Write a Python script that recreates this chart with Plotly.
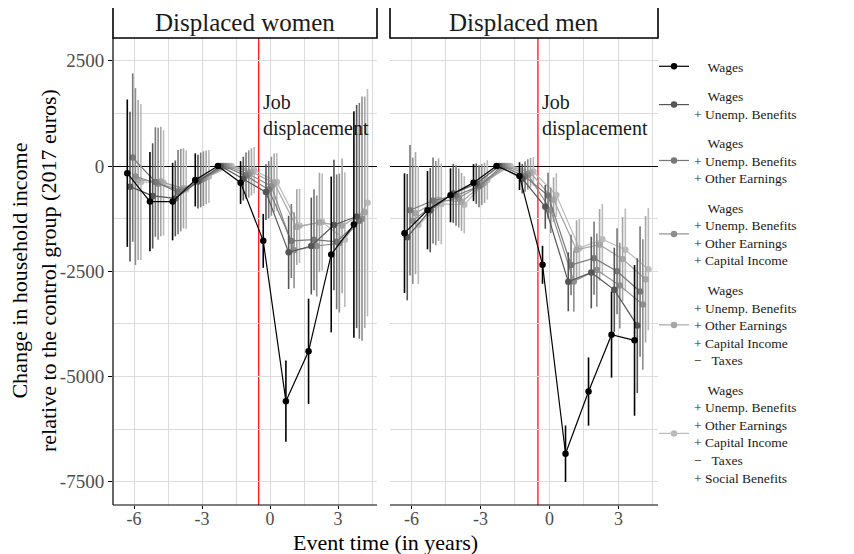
import plotly.graph_objects as go
from plotly.subplots import make_subplots

# ---------------- data ----------------
event_time = [-6, -5, -4, -3, -2, -1, 0, 1, 2, 3, 4]

series_names = [
    "\u2003Wages",
    "\u2003Wages<br>+ Unemp. Benefits",
    "\u2003Wages<br>+ Unemp. Benefits<br>+ Other Earnings",
    "\u2003Wages<br>+ Unemp. Benefits<br>+ Other Earnings<br>+ Capital Income",
    "\u2003Wages<br>+ Unemp. Benefits<br>+ Other Earnings<br>+ Capital Income<br>\u2212\u2002 Taxes",
    "\u2003Wages<br>+ Unemp. Benefits<br>+ Other Earnings<br>+ Capital Income<br>\u2212\u2002 Taxes<br>+ Social Benefits",
]
series_colors = ["#000000", "#555555", "#777777", "#8e8e8e", "#a6a6a6", "#bbbbbb"]
dodge = [-0.30, -0.18, -0.06, 0.06, 0.18, 0.30]

panel_titles = ["Displaced women", "Displaced men"]

# women: estimates and 95% CI half-widths
women_est = [
    [-170, -845, -845, -330, 0, -395, -1777, -5585, -4400, -2100, -1390],
    [-490, -710, -770, -370, 0, -300, -620, -2050, -1900, -1400, -1200],
    [200, -380, -620, -330, 0, -230, -560, -1780, -1750, -1800, -1300],
    [-250, -420, -570, -300, 0, -190, -480, -2000, -1900, -1830, -1250],
    [-330, -370, -530, -270, 0, -140, -400, -1450, -1340, -1420, -1100],
    [-380, -400, -560, -250, 0, -100, -380, -1420, -1330, -1750, -870],
]
women_ci = [
    [1750, 1180, 920, 630, 0, 510, 640, 965, 1250, 1850, 2690],
    [1780, 1250, 900, 640, 0, 520, 660, 870, 1150, 1550, 2650],
    [2000, 1300, 1000, 650, 0, 550, 680, 880, 1200, 1600, 2800],
    [2100, 1330, 980, 650, 0, 560, 700, 900, 1200, 1650, 2900],
    [1900, 1300, 950, 640, 0, 560, 700, 900, 1180, 1600, 2750],
    [1850, 1250, 930, 630, 0, 550, 690, 880, 1150, 1600, 2700],
]
# men
men_est = [
    [-1595, -1050, -695, -395, 0, -240, -2346, -6833, -5356, -4005, -4140],
    [-1690, -1050, -650, -420, 0, -300, -970, -2750, -2530, -2940, -3790],
    [-1050, -820, -700, -480, 0, -250, -700, -2350, -2190, -2500, -2980],
    [-1300, -880, -760, -440, 0, -200, -1050, -2740, -2470, -2840, -3290],
    [-1120, -800, -850, -400, 0, -160, -800, -1990, -1870, -2210, -2690],
    [-1400, -900, -920, -330, 0, -130, -690, -1950, -1740, -1990, -2450],
]
men_ci = [
    [1420, 930, 640, 440, 0, 330, 450, 670, 810, 1020, 1790],
    [1500, 1000, 700, 480, 0, 350, 520, 700, 850, 1000, 1600],
    [1550, 1020, 720, 500, 0, 360, 540, 720, 870, 1020, 1550],
    [1500, 1000, 700, 490, 0, 360, 540, 720, 870, 1020, 1550],
    [1450, 980, 690, 480, 0, 350, 530, 700, 850, 1000, 1500],
    [1400, 960, 680, 470, 0, 340, 520, 690, 840, 980, 1450],
]

y_ticks = [-7500, -5000, -2500, 0, 2500]
y_minor = [-6250, -3750, -1250, 1250]
x_ticks = [-6, -3, 0, 3]
x_minor = [-4.5, -1.5, 1.5, 4.5]
displacement_time = -0.5
annot_text = "Job<br>displacement"
annot_y = 1200

FONT = "Liberation Serif"

# page has an 8px body margin: layout in screen pixels, converted to paper
OFF = 8
W, H = 854 - OFF, 554 - OFF


def px(x):
    return (x - OFF) / W


def py(y):
    return 1 - (y - OFF) / H


# ---------------- figure ----------------
fig = make_subplots(rows=1, cols=2, shared_yaxes=True)

panels = [(women_est, women_ci), (men_est, men_ci)]
for p, (est, ci) in enumerate(panels):
    for i in range(6):
        xs = [t + dodge[i] for t in event_time]
        fig.add_trace(
            go.Scatter(
                x=xs, y=est[i],
                mode="lines+markers",
                name=series_names[i],
                legendgroup=f"g{i}",
                showlegend=(p == 0),
                line=dict(color=series_colors[i], width=1.2),
                marker=dict(color=series_colors[i], size=6.5),
                error_y=dict(type="data", array=ci[i], visible=True,
                             width=0, thickness=1.6, color=series_colors[i]),
                zorder=6 - i,
            ),
            row=1, col=p + 1,
        )

grid_c = "#dcdcdc"
xdom = [[px(113), px(377)], [px(390), px(658)]]
ydom = [py(505), py(38)]

for p in range(2):
    fig.update_xaxes(
        domain=xdom[p], range=[-6.93, 4.72],
        tickvals=x_ticks, ticktext=[str(v) for v in x_ticks],
        ticks="outside", ticklen=3, tickcolor="black", tickwidth=1,
        ticklabelstandoff=-6,
        showline=False,
        showgrid=True, gridcolor=grid_c, gridwidth=1,
        minor=dict(tickvals=x_minor, showgrid=True, gridcolor=grid_c, gridwidth=1, ticks=""),
        zeroline=False,
        tickfont=dict(family=FONT, size=18, color="#4d4d4d"),
        row=1, col=p + 1,
    )
    fig.update_yaxes(
        domain=ydom, range=[-8050, 3040],
        tickvals=y_ticks, ticktext=[str(v) for v in y_ticks],
        showgrid=True, gridcolor=grid_c, gridwidth=1,
        minor=dict(tickvals=y_minor, showgrid=True, gridcolor=grid_c, gridwidth=1, ticks=""),
        zeroline=True, zerolinecolor="black", zerolinewidth=1.3,
        tickfont=dict(family=FONT, size=19, color="#4d4d4d"),
        row=1, col=p + 1,
    )

fig.update_yaxes(ticks="outside", ticklen=4, tickcolor="black", showline=False, row=1, col=1)
fig.update_yaxes(showticklabels=False, ticks="", showline=False, row=1, col=2)

shapes = []
annotations = []
# axis lines
shapes.append(dict(type="line", xref="paper", yref="paper",
                   x0=xdom[0][0], x1=xdom[0][0], y0=ydom[0], y1=ydom[1],
                   line=dict(color="black", width=1.2), layer="above"))
for p in range(2):
    xr = "x" if p == 0 else "x2"
    yr = "y" if p == 0 else "y2"
    shapes.append(dict(type="line", xref="paper", yref="paper",
                       x0=xdom[p][0], x1=xdom[p][1], y0=ydom[0], y1=ydom[0],
                       line=dict(color="black", width=1.2), layer="above"))
    shapes.append(dict(type="line", xref=xr, yref=yr,
                       x0=displacement_time, x1=displacement_time, y0=-8050, y1=3040,
                       line=dict(color="red", width=1.2), layer="below"))
    shapes.append(dict(type="rect", xref="paper", yref="paper",
                       x0=xdom[p][0], x1=xdom[p][1], y0=ydom[1], y1=py(7),
                       line=dict(color="black", width=1.6), fillcolor="white"))
    annotations.append(dict(xref="paper", yref="paper",
                            x=(xdom[p][0] + xdom[p][1]) / 2, y=py(22.5),
                            text=panel_titles[p],
                            showarrow=False, xanchor="center", yanchor="middle",
                            font=dict(family=FONT, size=25, color="#1a1a1a")))
    annotations.append(dict(xref=xr, yref=yr, x=displacement_time, y=annot_y,
                            text=annot_text, showarrow=False, xanchor="left",
                            yanchor="middle", align="left", xshift=2,
                            font=dict(family=FONT, size=20, color="#1a1a1a")))

annotations.append(dict(xref="paper", yref="paper", x=px(34), y=py(271),
                        text="Change in household income<br>relative to the control group (2017 euros)",
                        textangle=-90, showarrow=False, xanchor="center", yanchor="middle",
                        font=dict(family=FONT, size=22, color="black")))
annotations.append(dict(xref="paper", yref="paper", x=px(385), y=py(542),
                        text="Event time (in years)", showarrow=False,
                        xanchor="center", yanchor="middle",
                        font=dict(family=FONT, size=22, color="black")))

fig.update_layout(
    width=W, height=H, autosize=False,
    margin=dict(l=0, r=0, t=0, b=0),
    plot_bgcolor="white", paper_bgcolor="white",
    shapes=shapes, annotations=annotations,
    legend=dict(x=px(654), y=py(51), xanchor="left", yanchor="top",
                font=dict(family=FONT, size=13.5, color="#1a1a1a"),
                tracegroupgap=9, bgcolor="rgba(0,0,0,0)", valign="middle"),
    font=dict(family=FONT),
)

fig.write_html("out.html")
